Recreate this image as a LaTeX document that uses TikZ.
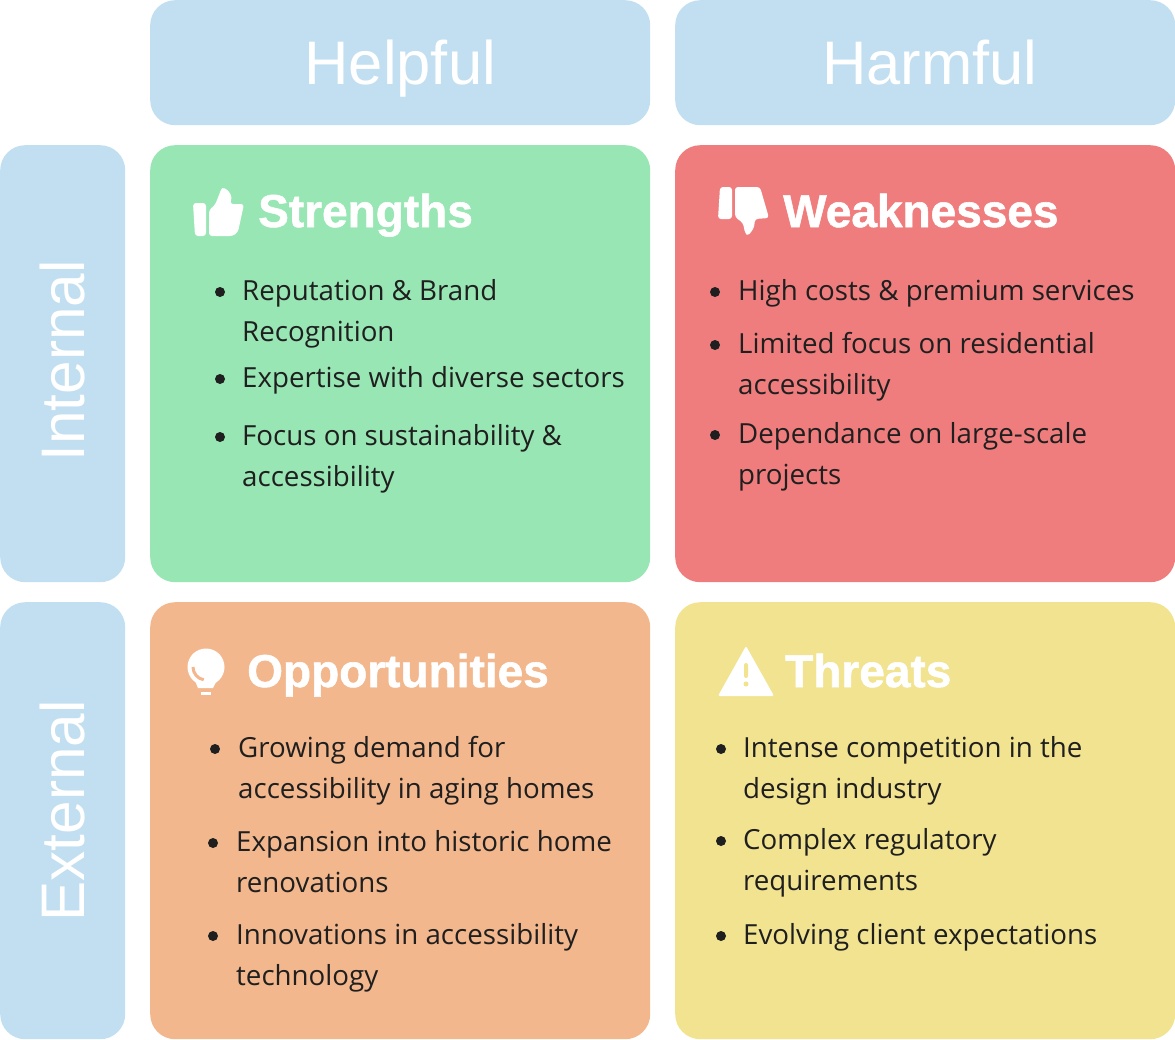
\documentclass[tikz,border=0pt]{standalone}
\usepackage{fontspec}
\setmainfont{Open Sans}
\newfontfamily\headfont[BoldFeatures={FakeBold=1.2}]{Liberation Sans}
\usetikzlibrary{calc}

\definecolor{axisblue}{HTML}{C1DFF0}
\definecolor{strengthgreen}{HTML}{98E6B3}
\definecolor{weakred}{HTML}{F07D7D}
\definecolor{opporange}{HTML}{F3B78D}
\definecolor{threatyellow}{HTML}{F2E391}
\definecolor{bodyink}{HTML}{1F1F1F}

\tikzset{
	panel/.style={rectangle, rounded corners=25pt, inner sep=0pt, anchor=north west},
	axislabel/.style={panel, fill=axisblue, text=white, text height=46pt, text depth=3pt, font=\headfont\fontsize{61.5}{62}\selectfont},
	quadtitle/.style={anchor=base west, inner sep=0pt, text=white, font=\headfont\bfseries\fontsize{46}{46}\selectfont},
	entry/.style={anchor=base west, inner sep=0pt, align=left, text=bodyink, font=\fontsize{27.7}{41}\selectfont},
	dotmark/.style={circle, fill=bodyink, inner sep=0pt, minimum size=10pt},
}

\begin{document}
\begin{tikzpicture}[x=1pt, y=-1pt]
	\useasboundingbox (0, 0) rectangle (1175, 1039);

	% header row and side column
	\node[axislabel, minimum width=500pt, minimum height=125pt] (helpful) at (150, 0) {Helpful};
	\node[axislabel, minimum width=500pt, minimum height=125pt] (harmful) at (675, 0) {\hspace*{9pt}Harmful};
	\node[axislabel, minimum width=125pt, minimum height=437pt] (internalbox) at (0, 145) {};
	\node[axislabel, minimum width=125pt, minimum height=437pt] (externalbox) at (0, 602) {};
	\node[axislabel, rotate=90, anchor=center, fill=none, xscale=0.98] (internal) at (63, 361) {Internal};
	\node[axislabel, rotate=90, anchor=center, fill=none, xscale=0.98] (external) at (63, 811) {External};

	% quadrants
	\node[panel, fill=strengthgreen, minimum width=500pt, minimum height=437pt] (strengths) at (150, 145) {};
	\node[panel, fill=weakred, minimum width=500pt, minimum height=437pt] (weaknesses) at (675, 145) {};
	\node[panel, fill=opporange, minimum width=500pt, minimum height=437pt] (opportunities) at (150, 602) {};
	\node[panel, fill=threatyellow, minimum width=500pt, minimum height=437pt] (threats) at (675, 602) {};

	\node[quadtitle] (strengthstitle) at (258, 227) {Strengths};
	\node[quadtitle] (weaknessestitle) at (783, 227) {Weaknesses};
	\node[quadtitle] (opportunitiestitle) at (247, 687) {Opportunities};
	\node[quadtitle] (threatstitle) at (785, 687) {Threats};

	% thumb up
	\fill[white, rounded corners=3pt](193, 203)--(206, 203)--(206, 236)--(195, 236)--cycle;
	\fill[white, rounded corners=3pt](209, 210)--(215, 205)--(219, 195)--(222, 187)--(228, 190)--(232, 197)--(230, 204)--(244, 204)--(238, 232)--(233, 236)--(209, 236)--cycle;
	% thumb down
	\fill[white, rounded corners=3pt](720, 187)--(732, 187)--(732, 219)--(718, 219)--cycle;
	\fill[white, rounded corners=3pt](735, 187)--(760, 187)--(769, 218)--(755, 219)--(754, 228)--(748, 236)--(745, 233)--(743, 223)--(735, 217)--cycle;
	% bulb
	\fill[white](206, 667)circle[radius=18.5];
	\fill[white](194, 678)--(198, 688)--(213, 688)--(218, 678)--cycle;
	\fill[white](201, 692)rectangle(211, 695);
	\draw[opporange, line width=3pt](193, 667)arc[radius=13, start angle=180, delta angle=-80];
	% warning sign
	\fill[white, rounded corners=2pt](746, 646)--(774, 696)--(718, 696)--cycle;
	\fill[threatyellow, rounded corners=2pt](744, 663)rectangle(748, 678);
	\fill[threatyellow](746, 684)circle[radius=2.5];

	% strengths
	\node[entry] (s1) at (242, 341) {Reputation \& Brand\\Recognition};
	\node[entry] (s2) at (242, 387) {Expertise with diverse sectors};
	\node[entry] (s3) at (242, 486) {Focus on sustainability \&\\accessibility};
	% weaknesses
	\node[entry] (w1) at (738, 300) {High costs \& premium services};
	\node[entry] (w2) at (738, 394) {Limited focus on residential\\accessibility};
	\node[entry] (w3) at (738, 484) {Dependance on large-scale\\projects};
	% opportunities
	\node[entry] (o1) at (238, 798) {Growing demand for\\accessibility in aging homes};
	\node[entry] (o2) at (236, 892) {Expansion into historic home\\renovations};
	\node[entry] (o3) at (236, 985) {Innovations in accessibility\\technology};
	% threats
	\node[entry] (t1) at (743, 798) {Intense competition in the\\design industry};
	\node[entry] (t2) at (743, 890) {Complex regulatory\\requirements};
	\node[entry] (t3) at (743, 944) {Evolving client expectations};

	\foreach \name/\px/\py in {ds1/220/292, ds2/220/379, ds3/220/437, dw1/715/292, dw2/715/345, dw3/715/435, do1/215/749, do2/213/843, do3/213/936, dt1/721/749, dt2/721/841, dt3/721/936}
		\node[dotmark] (\name) at (\px, \py) {};
\end{tikzpicture}
\end{document}
